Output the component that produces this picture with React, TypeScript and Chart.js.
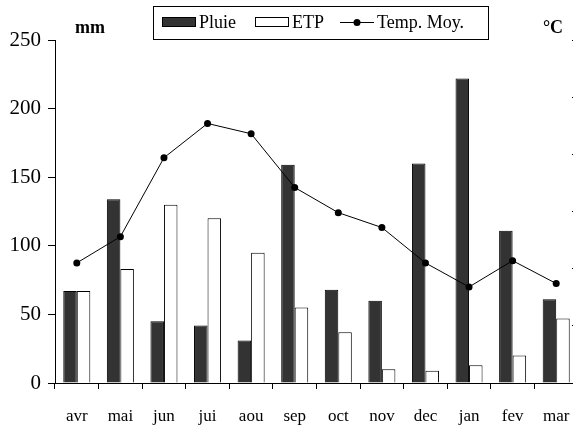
import React, { useEffect, useRef } from "react";
import { Chart, registerables } from "chart.js";

Chart.register(...registerables);

const months = ["avr", "mai", "jun", "jui", "aou", "sep", "oct", "nov", "dec", "jan", "fev", "mar"];
const pluie = [67, 134, 45, 42, 31, 159, 68, 60, 160, 222, 111, 61];
const etp = [67, 83, 130, 120, 95, 55, 37, 10, 9, 13, 20, 47];
const tempMoy = [10.5, 12.8, 19.7, 22.7, 21.8, 17.1, 14.9, 13.6, 10.5, 8.4, 10.7, 8.7];
const seriesNames = ["Pluie", "ETP", "Temp. Moy."];
const unitLeft = "mm";
const unitRight = "°C";

const FONT = '"Liberation Serif", "Times New Roman", serif';

const overlay = {
  id: "overlay",
  afterDraw(chart: any) {
    const ctx = chart.ctx as CanvasRenderingContext2D;
    const { left } = chart.chartArea;
    ctx.save();
    ctx.fillStyle = "#000";
    ctx.font = `bold 18px ${FONT}`;
    ctx.textAlign = "center";
    ctx.textBaseline = "middle";
    ctx.fillText(unitLeft, left + 35, 28);
    ctx.fillText(unitRight, 553, 28);

    // legend box
    ctx.lineWidth = 1;
    ctx.strokeStyle = "#000";
    ctx.strokeRect(153.5, 6.5, 335, 33);
    ctx.font = `18px ${FONT}`;
    ctx.textAlign = "left";
    const iconX = [162, 255, 340];
    const cy = 22;
    ctx.fillStyle = "#333333";
    ctx.fillRect(iconX[0], 17, 34, 10);
    ctx.strokeRect(iconX[0] + 0.5, 17.5, 33, 9);
    ctx.fillStyle = "#fff";
    ctx.fillRect(iconX[1], 17, 34, 10);
    ctx.strokeRect(iconX[1] + 0.5, 17.5, 33, 9);
    ctx.beginPath();
    ctx.moveTo(iconX[2], cy + 0.5);
    ctx.lineTo(iconX[2] + 34, cy + 0.5);
    ctx.stroke();
    ctx.beginPath();
    ctx.fillStyle = "#000";
    ctx.arc(iconX[2] + 17, cy + 0.5, 3.5, 0, Math.PI * 2);
    ctx.fill();
    seriesNames.forEach((n, i) => {
      ctx.fillText(n, iconX[i] + 37, cy + 1);
    });
    ctx.restore();
  },
};

export default function App() {
  const ref = useRef<HTMLCanvasElement>(null);
  useEffect(() => {
    document.body.style.margin = "0";
    document.body.style.overflow = "hidden";
    Chart.defaults.font.family = FONT;
    Chart.defaults.color = "#000";
    const chart = new Chart(ref.current!, {
      type: "bar",
      data: {
        labels: months,
        datasets: [
          {
            type: "line",
            label: seriesNames[2],
            data: tempMoy,
            yAxisID: "y1",
            borderColor: "#000",
            borderWidth: 1,
            backgroundColor: "#000",
            pointRadius: 3.5,
            pointBackgroundColor: "#000",
            pointBorderWidth: 0,
            tension: 0,
            order: 0,
          } as any,
          {
            label: seriesNames[0],
            data: pluie,
            yAxisID: "y",
            backgroundColor: "#333333",
            borderColor: "#000",
            borderWidth: 1,
            categoryPercentage: 0.62,
            barPercentage: 1,
            order: 1,
          },
          {
            label: seriesNames[1],
            data: etp,
            yAxisID: "y",
            backgroundColor: "#ffffff",
            borderColor: "#000",
            borderWidth: 1,
            categoryPercentage: 0.62,
            barPercentage: 1,
            order: 1,
          },
        ],
      },
      options: {
        responsive: false,
        animation: false,
        devicePixelRatio: 1,
        layout: { padding: { top: 40, left: 0, right: 0, bottom: 0 } },
        plugins: { legend: { display: false }, tooltip: { enabled: false } },
        scales: {
          x: {
            offset: true,
            grid: { drawOnChartArea: false, tickLength: 6, color: "#000", offset: true },
            border: { color: "#000", width: 1 },
            ticks: { font: { size: 17, family: FONT }, color: "#000", padding: 17, maxRotation: 0, autoSkip: false },
            afterFit(scale: any) {
              scale.height = 50;
              scale.paddingLeft = 0;
              scale.paddingRight = 0;
            },
          },
          y: {
            position: "left",
            min: 0,
            max: 250,
            ticks: { stepSize: 50, font: { size: 21, family: FONT }, color: "#000", padding: 7 },
            grid: { drawOnChartArea: false, tickLength: 7, color: "#000" },
            border: { color: "#000", width: 1 },
            afterFit(scale: any) {
              scale.width = 55;
              scale.paddingTop = 0;
              scale.paddingBottom = 0;
            },
          },
          y1: {
            position: "right",
            min: 0,
            max: 30,
            ticks: { stepSize: 5, display: false },
            grid: { drawOnChartArea: false, tickLength: -6, color: "#000" },
            border: { display: false },
            afterFit(scale: any) {
              scale.width = 0;
              scale.paddingTop = 0;
              scale.paddingBottom = 0;
            },
          },
        },
      },
      plugins: [overlay],
    });
    return () => chart.destroy();
  }, []);
  return (
    <div style={{ width: 573, height: 433, overflow: "hidden" }}>
      <canvas ref={ref} width={582} height={433} style={{ display: "block" }} />
    </div>
  );
}
